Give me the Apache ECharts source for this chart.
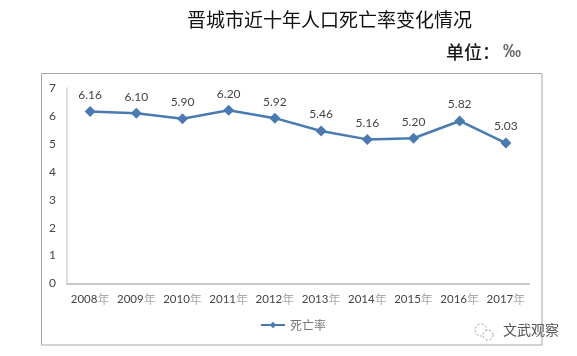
<!DOCTYPE html>
<html>
<head>
<meta charset="utf-8">
<style>
  html, body { margin: 0; padding: 0; background: #fff; }
  #chart { width: 577px; height: 356px; }
</style>
<script src="https://cdn.jsdelivr.net/npm/echarts@6/dist/echarts.min.js"></script>
</head>
<body>
<div id="chart"></div>
<script>
const years = ['2008', '2009', '2010', '2011', '2012', '2013', '2014', '2015', '2016', '2017']
const deathRate = [6.16, 6.10, 5.90, 6.20, 5.92, 5.46, 5.16, 5.20, 5.82, 5.03]
const seriesName = '死亡率'
const cjk = '"Noto Sans CJK SC"'

const chart = echarts.init(document.getElementById('chart'))

chart.setOption({
  animation: false,
  backgroundColor: '#fff',
  title: [
    {
      text: '晋城市近十年人口死亡率变化情况',
      left: 182,
      top: 5,
      textStyle: { fontFamily: cjk, fontSize: 19, fontWeight: 'normal', color: '#111' }
    },
    {
      text: '{a|单位：}{b|‰}',
      left: 441,
      top: 38,
      textStyle: {
        rich: {
          a: { fontFamily: cjk, fontSize: 18, fontWeight: 500, color: '#1a1a1a' },
          b: { fontFamily: 'Liberation Sans', fontSize: 18, color: '#666', padding: [0, 0, 0, 3] }
        }
      }
    }
  ],
  legend: {
    left: 255,
    top: 314,
    itemWidth: 24,
    itemHeight: 8,
    data: [seriesName],
    textStyle: { fontFamily: cjk, fontSize: 12, color: '#777', padding: [0, 0, 3, 0] }
  },
  grid: { left: 67, right: 48, top: 88, bottom: 72.5 },
  xAxis: {
    type: 'category',
    data: years,
    axisTick: { show: false },
    axisLine: { lineStyle: { color: '#c8c8c8', width: 2 } },
    axisLabel: {
      margin: 10,
      interval: 0,
      formatter: (value) => `{y|${value}}{n|年}`,
      rich: {
        y: { fontFamily: 'Lato', fontSize: 11.5, color: '#444' },
        n: { fontFamily: cjk, fontSize: 12, color: '#aaa' }
      }
    }
  },
  yAxis: {
    type: 'value',
    min: 0,
    max: 7,
    interval: 1,
    splitLine: { show: false },
    axisTick: { show: false },
    axisLine: { show: true, lineStyle: { color: '#d0d0d0', width: 1.5 } },
    axisLabel: { margin: 11, fontFamily: 'Lato', fontSize: 12, color: '#444' }
  },
  series: [
    {
      name: seriesName,
      type: 'line',
      data: deathRate,
      symbol: 'diamond',
      symbolSize: 11,
      itemStyle: { color: '#4a7ab2' },
      lineStyle: { color: '#4a7ab2', width: 2.5 },
      label: {
        show: true,
        position: 'top',
        distance: 5,
        formatter: (p) => p.value.toFixed(2),
        fontFamily: 'Lato',
        fontSize: 12,
        color: '#444'
      }
    }
  ],
  graphic: [
    {
      type: 'rect',
      silent: true,
      shape: { x: 41.5, y: 73.5, width: 500.5, height: 271.5 },
      style: { fill: 'none', stroke: '#a6a6a6', lineWidth: 1 }
    },
    {
      type: 'circle',
      silent: true,
      shape: { cx: 481, cy: 330, r: 6 },
      style: { fill: '#fff', stroke: '#999', lineWidth: 1, lineDash: [2, 2] }
    },
    {
      type: 'circle',
      silent: true,
      shape: { cx: 488, cy: 335, r: 5 },
      style: { fill: '#fff', stroke: '#999', lineWidth: 1, lineDash: [2, 2] }
    },
    {
      type: 'text',
      silent: true,
      style: { x: 503, y: 323, text: '文武观察', font: '14px "Noto Sans CJK SC"', fill: '#555' }
    }
  ]
})
</script>
</body>
</html>
